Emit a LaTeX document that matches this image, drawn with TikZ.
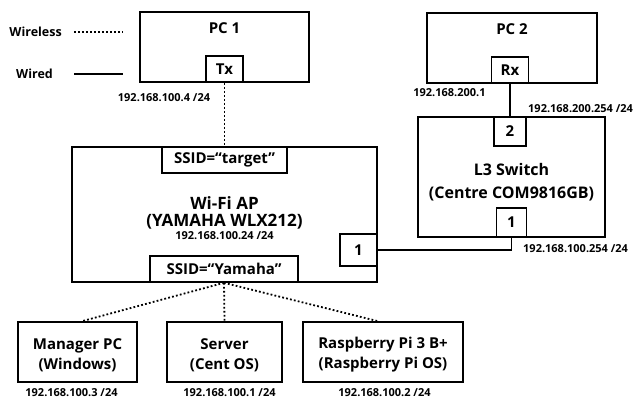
\documentclass[tikz,border=0pt]{standalone}
\usepackage{fontspec}
\setmainfont{Open Sans}
\usetikzlibrary{positioning}
\begin{document}
\begin{tikzpicture}[x=1pt,y=-1pt,
  box/.style={draw, line width=1.6pt, inner sep=0pt, align=center},
  port/.style={box, fill=white, font=\bfseries\fontsize{15}{17}\selectfont},
  title/.style={inner sep=0pt, align=center, font=\bfseries\fontsize{15}{17}\selectfont},
  ip/.style={inner sep=0pt, font=\bfseries\fontsize{11}{13}\selectfont},
  wless/.style={line width=1.8pt, dash pattern=on 1.8pt off 2.2pt},
  wired/.style={line width=1.6pt}]
\useasboundingbox (0,0) rectangle (633,401);
% legend
\node[ip, anchor=east, font=\bfseries\fontsize{12.5}{14}\selectfont] (wlesstxt) at (62,32) {Wireless};
\node[ip, anchor=east, font=\bfseries\fontsize{12.5}{14}\selectfont] (wiredtxt) at (53,74) {Wired};
\coordinate (wlessend) at (123,32);
\coordinate (wiredend) at (123,74);
\draw[wless] ([xshift=12pt]wlesstxt.east) -- (wlessend);
\draw[wired] ([xshift=21pt]wiredtxt.east) -- (wiredend);
% PCs
\node[box, minimum width=169, minimum height=70, label={[title, anchor=north, yshift=-11.5pt]north:PC 1}] (pc1) at (224.5,47) {};
\node[port, minimum width=37, minimum height=26, anchor=south] (tx) at (pc1.south) {Tx};
\node[box, minimum width=170, minimum height=70, label={[title, anchor=north, yshift=-11pt]north:PC 2}] (pc2) at (512,48) {};
\node[port, minimum width=37, minimum height=26, anchor=south] (rx) at ([xshift=-2pt]pc2.south) {Rx};
% access point
\node[box, minimum width=305, minimum height=135, label={[title, yshift=-4pt, font=\bfseries\fontsize{17}{17}\selectfont]center:Wi-Fi AP\\(YAMAHA WLX212)\\[-4pt]{\fontsize{11}{13}\selectfont 192.168.100.24 /24}}] (ap) at (224.5,214.5) {};
\node[port, minimum width=125, minimum height=26, anchor=north] (ssidt) at (ap.north) {SSID=“target”};
\node[port, minimum width=148, minimum height=26, anchor=south] (ssidy) at ([xshift=-0.5pt]ap.south) {SSID=“Yamaha”};
\node[port, minimum width=37, minimum height=32, anchor=east] (ap1) at ([yshift=-35.5pt]ap.east) {1};
% switch
\node[box, minimum width=187, minimum height=120, label={[title, yshift=-5pt, font=\bfseries\fontsize{16}{23}\selectfont]center:L3 Switch\\(Centre COM9816GB)}] (sw) at (511.5,177) {};
\node[port, minimum width=32, minimum height=29, anchor=north] (sw2) at ([xshift=-1.5pt]sw.north) {2};
\node[port, minimum width=30, minimum height=29, anchor=south] (sw1) at (sw.south) {1};
% addresses
\node[ip] (pc1ip) at (164,98) {192.168.100.4 /24};
\node[ip] (pc2ip) at (449.5,93) {192.168.200.1};
\node[ip, anchor=west] (sw2ip) at (528,109) {192.168.200.254 /24};
\node[ip, anchor=west] (sw1ip) at (523,249) {192.168.100.254 /24};
% links
\draw[wless] (tx) -- (ssidt);
\draw[wired] (rx) -- (sw2);
\draw[wired] (ap1) -| (sw1);
% hosts
\foreach \nm/\cx/\bw/\dx/\txt/\ipx/\ip in {mgr/77.5/119/4.5/{Manager PC\\(Windows)}/71.5/{192.168.100.3 /24},
    srv/224.5/115/0/{Server\\(Cent OS)}/229.5/{192.168.100.1 /24},
    rpi/383/160/-5/{Raspberry Pi 3 B+\\(Raspberry Pi OS)}/384.5/{192.168.100.2 /24}} {
  \node[box, minimum width=\bw, minimum height=60, label={[title, yshift=-3pt, font=\bfseries\fontsize{15}{20}\selectfont]center:\txt}] (\nm) at (\cx,352) {};
  \node[ip] (\nm ip) at (\ipx,393) {\ip};
  \draw[wless] (ssidy.south) -- ([xshift=\dx pt]\nm.north);
}
\end{tikzpicture}
\end{document}
